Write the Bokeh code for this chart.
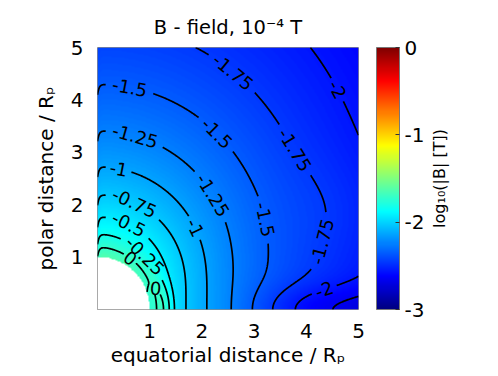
import numpy as np
from contourpy import contour_generator
from bokeh.plotting import figure
from bokeh.layouts import row
from bokeh.models import (LinearColorMapper, ColorBar, FixedTicker, Range1d, Label,
                          ColumnDataSource, CustomJSTickFormatter)
from bokeh.core.properties import value
from bokeh.embed import file_html
from bokeh.resources import INLINE

# ---------------- texts / ticks ----------------
TITLE = "B - field, 10\u207b\u2074 T"
X_LABEL = "equatorial distance / R\u209a"
Y_LABEL = "polar distance / R\u209a"
CBAR_LABEL = "log\u2081\u2080(|B| [T])"
X_TICKS = [1, 2, 3, 4, 5]
Y_TICKS = [1, 2, 3, 4, 5]
CBAR_TICKS = [-3, -2, -1, 0]
CBAR_RANGE = [-3, 0]
AXIS_RANGE = [0, 5]
PLANET_RADIUS = 1.0
CONTOUR_LEVELS = [-2.25, -2.0, -1.75, -1.5, -1.25, -1.0, -0.75, -0.5, -0.25, 0.0]

# ---------------- field model fitted to the contour crossings ----------------
FIELD_OFFSET = -0.105      # log10 |B| at r = 1 on the equator
FIELD_DECAY = 2.9          # radial fall-off exponent
FIELD_CURVE = 0.35         # flattening of the fall-off further out
BUMP_AMP, BUMP_R, BUMP_W, BUMP_H = 0.4, 1.25, 0.18, 0.7     # equatorial bump near planet
DEP_AMP, DEP_R0, DEP_R1, DEP_H = 0.4, 2.3, 4.3, 0.45        # equatorial depression
OUTER_AMP, OUTER_X, OUTER_Y, OUTER_W = 0.08, 4.6, 1.9, 1.0  # bulge of the -1.75 contour
AXIS_SHIFT, AXIS_W = 0.2, 0.03                                # hook at the polar axis
SHADE_OFFSET, SHADE_GAIN = -1.72, 0.42                        # colour shading vs contour value

FONT = "DejaVu Sans"
FRAME_W, FRAME_H = 261, 262
BORDER_L, BORDER_T, BORDER_R, BORDER_B = 97, 47, 68, 55
SX, SY = FRAME_W / (AXIS_RANGE[1] - AXIS_RANGE[0]), FRAME_H / (AXIS_RANGE[1] - AXIS_RANGE[0])
LABEL_PX = 18
LABEL_FIRST, LABEL_SPACING = 15, 100


def jet(n=256):
    out = []
    for i in range(n):
        t = i / (n - 1)
        r = np.clip(min(4 * t - 1.5, -4 * t + 4.5), 0, 1)
        g = np.clip(min(4 * t - 0.5, -4 * t + 3.5), 0, 1)
        b = np.clip(min(4 * t + 0.5, -4 * t + 2.5), 0, 1)
        out.append("#%02x%02x%02x" % (int(r * 255), int(g * 255), int(b * 255)))
    return out


# ---------------- field on a grid ----------------
n = 401
xs = np.linspace(AXIS_RANGE[0], AXIS_RANGE[1], n)
ys = np.linspace(AXIS_RANGE[0], AXIS_RANGE[1], n)
X, Y = np.meshgrid(xs, ys)
Ys = Y + AXIS_SHIFT * np.exp(-X / AXIS_W)
R = np.hypot(X, Ys)
R = np.where(R == 0, 1e-6, R)
L = np.log10(R)
F = 0.5 * np.log10(1 + 3 * (Ys / R) ** 2) + FIELD_OFFSET - FIELD_DECAY * L + FIELD_CURVE * L ** 2
F += BUMP_AMP * np.exp(-((R - BUMP_R) / BUMP_W) ** 2) * np.exp(-(Y / BUMP_H) ** 2)
tt = np.clip((R - DEP_R0) / (DEP_R1 - DEP_R0), 0, 1)
F -= DEP_AMP * tt * tt * (3 - 2 * tt) * np.exp(-(Y / DEP_H) ** 2)
F += OUTER_AMP * np.exp(-((X - OUTER_X) ** 2 + (Y - OUTER_Y) ** 2) / OUTER_W)
inside = np.hypot(X, Y) < PLANET_RADIUS
Fm = np.ma.masked_where(inside, F)
shade = np.where(inside, np.nan, SHADE_OFFSET + SHADE_GAIN * F)

# ---------------- main figure ----------------
p = figure(frame_width=FRAME_W, frame_height=FRAME_H,
           x_range=Range1d(*AXIS_RANGE), y_range=Range1d(*AXIS_RANGE),
           output_backend="svg", toolbar_location=None,
           min_border_left=BORDER_L, min_border_right=BORDER_R,
           min_border_top=BORDER_T, min_border_bottom=BORDER_B,
           background_fill_color="white", border_fill_color="white")

mapper = LinearColorMapper(palette=jet(), low=CBAR_RANGE[0], high=CBAR_RANGE[1], nan_color="white")
p.image(image=[shade], x=AXIS_RANGE[0], y=AXIS_RANGE[0],
        dw=AXIS_RANGE[1] - AXIS_RANGE[0], dh=AXIS_RANGE[1] - AXIS_RANGE[0], color_mapper=mapper)


def split_and_label(line, text):
    P = np.column_stack([line[:, 0] * SX, line[:, 1] * SY])
    d = np.hypot(np.diff(P[:, 0]), np.diff(P[:, 1]))
    s = np.concatenate([[0.0], np.cumsum(d)])
    total = s[-1]
    w = 0.62 * LABEL_PX * len(text) + 4
    if total < w + 10:
        return [line], []
    if total < LABEL_FIRST + w + LABEL_SPACING * 0.6:
        centers = [total / 2]
    else:
        centers = list(np.arange(LABEL_FIRST + w / 2, total - w / 2, LABEL_SPACING))
    labels, cuts = [], []
    for c in centers:
        a, b = max(c - w / 2, 0), min(c + w / 2, total)
        xa, ya = np.interp(a, s, P[:, 0]), np.interp(a, s, P[:, 1])
        xb, yb = np.interp(b, s, P[:, 0]), np.interp(b, s, P[:, 1])
        ang = np.arctan2(yb - ya, xb - xa)
        if ang > np.pi / 2:
            ang -= np.pi
        elif ang < -np.pi / 2:
            ang += np.pi
        labels.append((np.interp(c, s, line[:, 0]), np.interp(c, s, line[:, 1]), ang, text))
        cuts.append((a, b))
    pieces, start = [], 0.0
    for a, b in cuts + [(total, total)]:
        if a > start:
            m = (s > start) & (s < a)
            px = np.concatenate([[np.interp(start, s, line[:, 0])], line[m, 0], [np.interp(a, s, line[:, 0])]])
            py = np.concatenate([[np.interp(start, s, line[:, 1])], line[m, 1], [np.interp(a, s, line[:, 1])]])
            pieces.append(np.column_stack([px, py]))
        start = b
    return pieces, labels


cg = contour_generator(xs, ys, Fm, line_type="Separate")
line_xs, line_ys = [], []
lab = dict(x=[], y=[], angle=[], text=[])
for lev in CONTOUR_LEVELS:
    txt = "%g" % lev
    for ln in cg.lines(lev):
        if len(ln) < 2:
            continue
        if ln[0, 0] > ln[-1, 0]:
            ln = ln[::-1]
        pieces, labels = split_and_label(ln, txt)
        for pc in pieces:
            line_xs.append(list(pc[:, 0]))
            line_ys.append(list(pc[:, 1]))
        for (lx, ly, la, lt) in labels:
            lab["x"].append(lx)
            lab["y"].append(ly)
            lab["angle"].append(la)
            lab["text"].append(lt)

p.multi_line(xs=line_xs, ys=line_ys, line_color="black", line_width=1.7)
p.text(x="x", y="y", text="text", angle="angle", source=ColumnDataSource(lab),
       text_font=value(FONT), text_font_size="%dpx" % LABEL_PX, text_color="black",
       text_align="center", text_baseline="middle")

# ---------------- axes ----------------
p.xaxis.ticker = FixedTicker(ticks=X_TICKS)
p.yaxis.ticker = FixedTicker(ticks=Y_TICKS)
p.xaxis.axis_label = X_LABEL
p.yaxis.axis_label = Y_LABEL
for ax in (p.xaxis, p.yaxis):
    ax.axis_line_color = None
    ax.major_tick_line_color = None
    ax.minor_tick_line_color = None
    ax.major_label_text_font = FONT
    ax.major_label_text_font_size = "20px"
    ax.major_label_text_color = "black"
    ax.axis_label_text_font = FONT
    ax.axis_label_text_font_size = "20px"
    ax.axis_label_text_font_style = "normal"
    ax.axis_label_text_color = "black"
    ax.major_label_standoff = 8
p.xaxis.axis_label_standoff = 2
p.yaxis.axis_label_standoff = 10
p.grid.visible = False
p.outline_line_color = "#8c8c8c"
p.outline_line_width = 1

p.title.text = TITLE
p.title.align = "center"
p.title.text_font = FONT
p.title.text_font_size = "19.5px"
p.title.text_font_style = "normal"
p.title.text_color = "black"
p.title.standoff = 17

cb = ColorBar(color_mapper=mapper, ticker=FixedTicker(ticks=CBAR_TICKS),
              formatter=CustomJSTickFormatter(code="return tick.toString()"),
              width=23, height=FRAME_H,
              location=(18, 0), padding=0, margin=0, bar_line_color="#777777",
              major_tick_line_color="#333333", major_tick_in=4, major_tick_out=0,
              minor_tick_line_color=None, label_standoff=5,
              major_label_text_font=FONT, major_label_text_font_size="20px",
              major_label_text_color="black", background_fill_color=None, border_line_color=None)
p.add_layout(cb, "right")

# ---------------- side strip holding the colour-bar label ----------------
p2 = figure(frame_width=24, frame_height=FRAME_H, x_range=Range1d(0, 1), y_range=Range1d(0, 1),
            x_axis_location=None, y_axis_location=None,
            min_border_left=0, min_border_right=0, min_border_top=BORDER_T, min_border_bottom=BORDER_B,
            output_backend="svg", toolbar_location=None,
            background_fill_color=None, border_fill_color="white", outline_line_color=None)
p2.grid.visible = False
p2.add_layout(Label(x=0.5, y=0.5, text=CBAR_LABEL, angle=np.pi / 2,
                    text_align="center", text_baseline="middle",
                    text_font=FONT, text_font_size="16px", text_color="black"))

open("out.html", "w").write(file_html(row(p, p2), INLINE))
